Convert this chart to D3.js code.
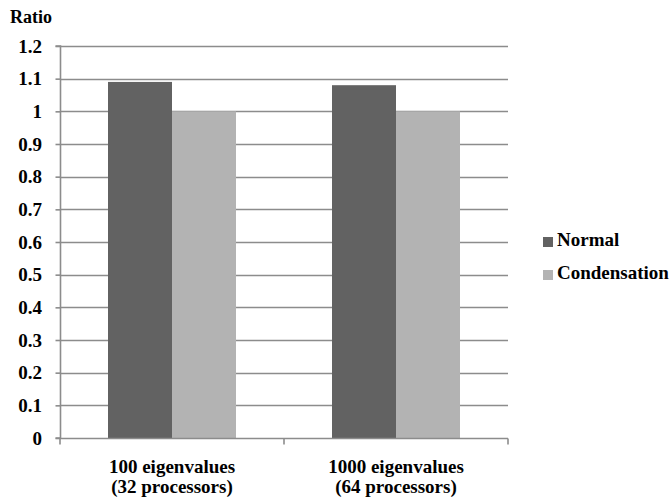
<!DOCTYPE html>
<html><head><meta charset="utf-8"><script src="https://cdn.jsdelivr.net/npm/d3@7"></script></head>
<body style="margin:0">
<svg id="s" width="670" height="500"></svg>
<script>
// Run-time ratio for the two problem sizes
const categories = ["100 eigenvalues (32 processors)", "1000 eigenvalues (64 processors)"];
const categoryLines = [["100 eigenvalues", "(32 processors)"], ["1000 eigenvalues", "(64 processors)"]];
const seriesNames = ["Normal", "Condensation"];
const normalValues = [1.09, 1.08];
const condensationValues = [1.0, 1.0];
const yTicks = [0, 0.1, 0.2, 0.3, 0.4, 0.5, 0.6, 0.7, 0.8, 0.9, 1, 1.1, 1.2];
const yTickLabels = ["0", "0.1", "0.2", "0.3", "0.4", "0.5", "0.6", "0.7", "0.8", "0.9", "1", "1.1", "1.2"];

const fam = "Times New Roman, serif";
const colors = { Normal: "#626262", Condensation: "#b3b3b3" };
const svg = d3.select("#s");
const margin = { left: 60, right: 162, top: 46, bottom: 62 };
const W = 670, H = 500;

const x = d3.scaleBand().domain(categories).range([margin.left, W - margin.right]);
const xInner = d3.scaleBand().domain(seriesNames)
  .range([0, x.bandwidth()]).paddingOuter(0.75).paddingInner(0);
const y = d3.scaleLinear().domain([0, 1.2]).range([H - margin.bottom, margin.top]);

// horizontal gridlines
svg.append("g").selectAll("line").data(yTicks.filter(d => d > 0)).join("line")
  .attr("x1", margin.left).attr("x2", W - margin.right)
  .attr("y1", d => Math.round(y(d)) + 0.5).attr("y2", d => Math.round(y(d)) + 0.5)
  .attr("stroke", "#8c8c8c").attr("stroke-width", 1.6);

// bars
const rows = categories.map((c, i) => ({ c, vals: [
  { s: "Normal", v: normalValues[i] }, { s: "Condensation", v: condensationValues[i] }] }));
svg.append("g").selectAll("g").data(rows).join("g")
  .attr("transform", d => `translate(${x(d.c)},0)`)
  .selectAll("rect").data(d => d.vals).join("rect")
  .attr("x", d => xInner(d.s)).attr("width", xInner.bandwidth())
  .attr("y", d => y(d.v)).attr("height", d => y(0) - y(d.v))
  .attr("fill", d => colors[d.s]);

// y axis line and ticks
const yAxis = d3.axisLeft(y).tickValues(yTicks).tickFormat("").tickSize(5);
const gy = svg.append("g").attr("transform", `translate(${margin.left + 0.5},0)`).call(yAxis);
gy.select(".domain").attr("stroke", "#8c8c8c").attr("stroke-width", 1.6).attr("d", `M-5,${y(1.2)}H0V${y(0)}H-5`);
gy.selectAll(".tick line").attr("stroke", "#8c8c8c").attr("stroke-width", 1.6);
gy.selectAll(".tick text").remove();

// y tick labels
yTicks.forEach((t, i) => {
  svg.append("text").attr("x", 42).attr("y", y(t) + 6.5)
    .attr("font-family", fam).attr("font-size", 19).attr("font-weight", "bold")
    .attr("text-anchor", "end").text(yTickLabels[i]);
});

// x axis
const xAxis = d3.axisBottom(x).tickFormat("").tickSize(0);
const gx = svg.append("g").attr("transform", `translate(0,${Math.round(y(0)) + 0.5})`).call(xAxis);
gx.select(".domain").attr("stroke", "#8c8c8c").attr("stroke-width", 1.6)
  .attr("d", `M${margin.left},0H${W - margin.right}`);
const xBoundaries = [margin.left, ...categories.map(c => x(c) + x.bandwidth())];
gx.selectAll(".bound").data(xBoundaries).join("line").attr("class", "bound")
  .attr("x1", d => d).attr("x2", d => d).attr("y1", 0).attr("y2", 6)
  .attr("stroke", "#8c8c8c").attr("stroke-width", 1.6);

// category labels
categories.forEach((c, i) => {
  categoryLines[i].forEach((line, j) => {
    svg.append("text").attr("x", x(c) + x.bandwidth() / 2).attr("y", 473 + j * 20)
      .attr("font-family", fam).attr("font-size", 19).attr("font-weight", "bold")
      .attr("text-anchor", "middle").text(line);
  });
});

// y axis title
svg.append("text").attr("x", 10).attr("y", 23)
  .attr("font-family", fam).attr("font-size", 18).attr("font-weight", "bold").text("Ratio");

// legend
seriesNames.forEach((s, i) => {
  const yy = 241 + i * 33;
  svg.append("rect").attr("x", 543).attr("y", yy - 4).attr("width", 10).attr("height", 10).attr("fill", colors[s]);
  svg.append("text").attr("x", 557).attr("y", yy + 5)
    .attr("font-family", fam).attr("font-size", 19).attr("font-weight", "bold").text(s);
});
</script>
</body>
</html>
